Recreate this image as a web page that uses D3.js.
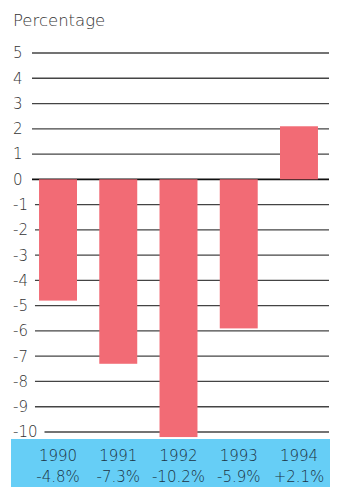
<!DOCTYPE html>
<html>
<head>
<meta charset="utf-8">
<script src="https://cdn.jsdelivr.net/npm/d3@7"></script>
<style>
  html, body { margin: 0; padding: 0; background: #fff; }
  svg { display: block; }
  text { font-family: "DejaVu Sans ExtraLight", "DejaVu Sans", sans-serif; font-weight: 200; }
</style>
</head>
<body>
<svg id="chart" width="339" height="487"></svg>
<script>
const years = ["1990", "1991", "1992", "1993", "1994"];
const values = [-4.8, -7.3, -10.2, -5.9, 2.1];
const valueLabels = ["-4.8%", "-7.3%", "-10.2%", "-5.9%", "+2.1%"];
const ticks = [5, 4, 3, 2, 1, 0, -1, -2, -3, -4, -5, -6, -7, -8, -9, -10];

const svg = d3.select("#chart");
const y = d3.scaleLinear().domain([-10, 5]).range([432, 53]);
const x = d3.scaleBand().domain(years).range([27.9, 329.1])
  .paddingInner(0.37).paddingOuter(0.185);

// Title
svg.append("text").attr("x", 13).attr("y", 26)
  .attr("font-size", 16.5).attr("fill", "#333").text("Percentage");

// Blue footer band with year / change labels
svg.append("rect").attr("x", 11).attr("y", 439).attr("width", 319).attr("height", 48)
  .attr("fill", "#66cef6");

// Tick labels and gridlines
const tg = svg.append("g");
ticks.forEach(t => {
  const lbl = tg.append("text").attr("x", 13).attr("y", y(t)).attr("dy", "0.36em")
    .attr("font-size", 15).attr("fill", "#333").text(t);
  const w = lbl.node().getComputedTextLength();
  const x0 = Math.max(32, 13 + w + 7);
  tg.append("line").attr("x1", x0).attr("x2", 329)
    .attr("y1", y(t)).attr("y2", y(t))
    .attr("stroke", t === 0 ? "#111" : "#444")
    .attr("stroke-width", t === 0 ? 1.6 : 1.3);
});

// Bars
svg.append("g").selectAll("rect").data(years).join("rect")
  .attr("x", d => x(d))
  .attr("width", x.bandwidth())
  .attr("y", (d, i) => y(Math.max(0, values[i])))
  .attr("height", (d, i) => Math.abs(y(values[i]) - y(0)))
  .attr("fill", "#f26b75");

// Footer labels
const fl = svg.append("g").attr("fill", "#1c3444").attr("font-size", 15).attr("text-anchor", "middle");
years.forEach((yr, i) => {
  const cx = x(yr) + x.bandwidth() / 2;
  fl.append("text").attr("x", cx).attr("y", 461).text(yr);
  fl.append("text").attr("x", cx).attr("y", 482).text(valueLabels[i]);
});
</script>
</body>
</html>
